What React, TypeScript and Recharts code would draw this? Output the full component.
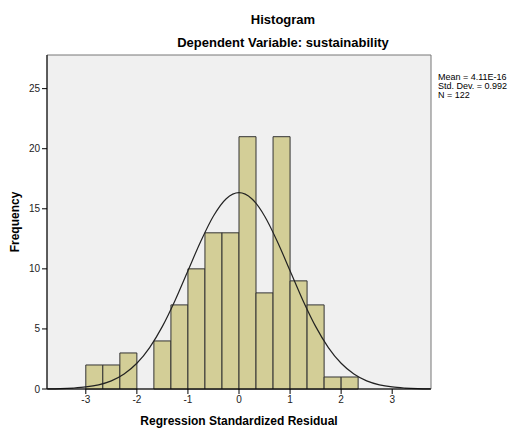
import { ComposedChart, Line, XAxis, YAxis, ReferenceArea, Label } from "recharts";

// histogram bins (width 1/3) and their counts
const binEdges = [-3, -2.667, -2.333, -2, -1.667, -1.333, -1, -0.667, -0.333, 0, 0.333, 0.667, 1, 1.333, 1.667, 2, 2.333];
const binCounts = [2, 2, 3, 0, 4, 7, 10, 13, 13, 21, 8, 21, 9, 7, 1, 1];

// normal curve
const curveX = [-3.75, -3.5, -3.25, -3, -2.75, -2.5, -2.25, -2, -1.75, -1.5, -1.25, -1, -0.75, -0.5, -0.25, 0, 0.25, 0.5, 0.75, 1, 1.25, 1.5, 1.75, 2, 2.25, 2.5, 2.75, 3, 3.25, 3.5, 3.75];
const curveY = [0.01, 0.03, 0.08, 0.17, 0.35, 0.68, 1.25, 2.14, 3.45, 5.21, 7.39, 9.84, 12.28, 14.4, 15.84, 16.35, 15.84, 14.4, 12.28, 9.84, 7.39, 5.21, 3.45, 2.14, 1.25, 0.68, 0.35, 0.17, 0.08, 0.03, 0.01];

const xTicks = [-3, -2, -1, 0, 1, 2, 3];
const yTicks = [0, 5, 10, 15, 20, 25];
const statLines = ["Mean = 4.11E-16", "Std. Dev. = 0.992", "N = 122"];

const font = "Arial, 'Liberation Sans', sans-serif";
const xMin = -3.76;
const xMax = 3.76;
const yMax = 27.8;

const curve = curveX.map((x, i) => ({ x, y: curveY[i] }));

export default function App() {
  return (
    <div style={{ position: "absolute", left: 0, top: 0, width: 516, height: 429, background: "#fff", fontFamily: font }}>
      <div style={{ position: "absolute", left: 0, width: 566, top: 12, textAlign: "center", fontWeight: "bold", fontSize: 13, color: "#000" }}>
        Histogram
      </div>
      <div style={{ position: "absolute", left: 0, width: 566, top: 35, textAlign: "center", fontWeight: "bold", fontSize: 13, color: "#000" }}>
        Dependent Variable: sustainability
      </div>
      <div style={{ position: "absolute", left: 438, top: 73, fontSize: 9, lineHeight: "9px", color: "#000" }}>
        {statLines.map((s) => (
          <div key={s}>{s}</div>
        ))}
      </div>
      <div style={{ position: "absolute", left: 0, width: 478, top: 414, textAlign: "center", fontWeight: "bold", fontSize: 12, color: "#000" }}>
        Regression Standardized Residual
      </div>
      <ComposedChart width={516} height={429} data={curve} margin={{ top: 55, right: 85, left: 0, bottom: 0 }}>
        <ReferenceArea x1={xMin} x2={xMax} y1={0} y2={yMax} fill="#f0f0f0" fillOpacity={1} stroke="#777" />
        {binCounts.map((c, i) =>
          c > 0 ? (
            <ReferenceArea
              key={i}
              x1={binEdges[i]}
              x2={binEdges[i + 1]}
              y1={0}
              y2={c}
              fill="#d3ce97"
              fillOpacity={1}
              stroke="#333"
              strokeWidth={1}
            />
          ) : null
        )}
        <XAxis
          dataKey="x"
          type="number"
          domain={[xMin, xMax]}
          ticks={xTicks}
          height={40}
          tickSize={5}
          stroke="#000"
          tick={{ fill: "#222", fontSize: 10, fontFamily: font }}
        />
        <YAxis
          type="number"
          domain={[0, yMax]}
          ticks={yTicks}
          width={47}
          tickSize={5}
          stroke="#000"
          tick={{ fill: "#222", fontSize: 10, fontFamily: font }}
        >
          <Label
            value="Frequency"
            angle={-90}
            position="insideLeft"
            offset={15}
            style={{ textAnchor: "middle", fontWeight: "bold", fontSize: 12, fill: "#000", fontFamily: font }}
          />
        </YAxis>
        <Line type="monotone" dataKey="y" stroke="#222" strokeWidth={1.2} dot={false} isAnimationActive={false} />
      </ComposedChart>
    </div>
  );
}
